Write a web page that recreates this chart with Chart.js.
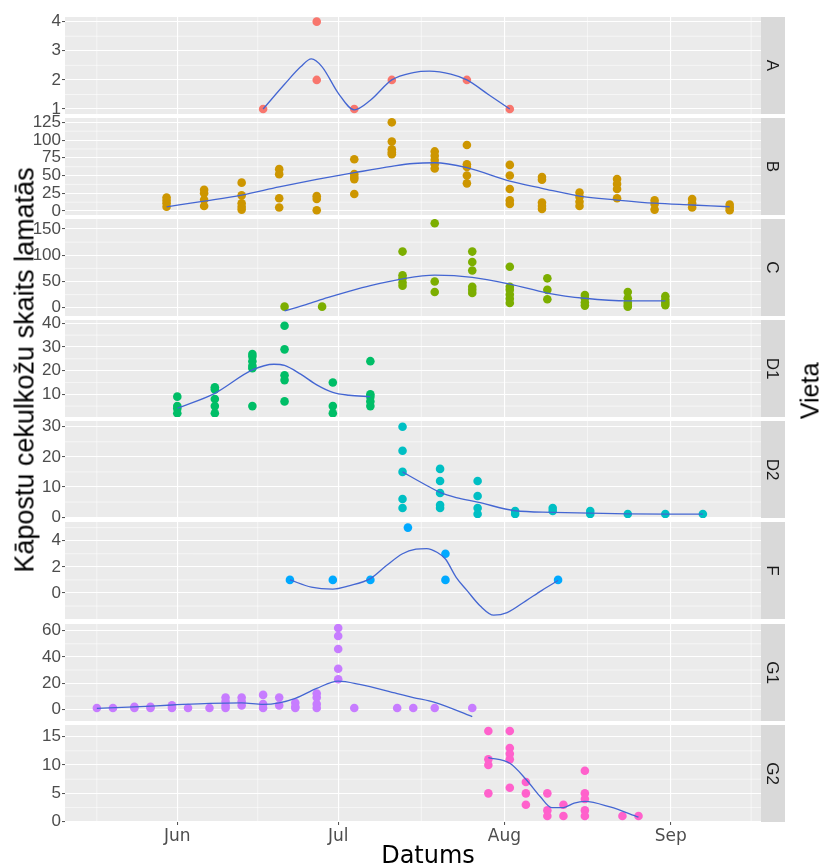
<!DOCTYPE html>
<html>
<head>
<meta charset="utf-8">
<script src="https://cdn.jsdelivr.net/npm/chart.js@4.4.1/dist/chart.umd.min.js"></script>
<style>
  html, body { margin: 0; padding: 0; background: #ffffff; }
  #wrap { position: relative; width: 819px; height: 866px; overflow: hidden; }
  #wrap canvas { position: absolute; left: 0; }
  .title { position: absolute; white-space: nowrap; color: #000000; z-index: 5; line-height: 1; }
  #ytitle { left: 25px; top: 370px; font: 27px "Liberation Sans", Arial, sans-serif; transform: translate(-50%, -50%) rotate(-90deg); }
  #rtitle { left: 810px; top: 391px; font: 25px "Liberation Sans", Arial, sans-serif; transform: translate(-50%, -50%) rotate(-90deg); }
  #xtitle { left: 428px; top: 855px; font: 24px "DejaVu Sans", sans-serif; transform: translate(-50%, -50%); }
</style>
</head>
<body>
<div id="wrap">
  <div class="title" id="ytitle">Kāpostu cekulkožu skaits lamatās</div>
  <div class="title" id="xtitle">Datums</div>
  <div class="title" id="rtitle">Vieta</div>
</div>
<script>
// Trap catches per site: sampling day (day of year) and the counts caught that day.
const siteLabels = ['A', 'B', 'C', 'D1', 'D2', 'F', 'G1', 'G2'];
const siteColors = ['#F8766D', '#CD9600', '#7CAE00', '#00BE67', '#00BFC4', '#00A9FF', '#C77CFF', '#FF61CC'];

const daysA = [168, 178, 185, 192, 206, 214];
const countsA = [[1], [4, 2], [1], [2], [2], [1]];

const daysB = [150, 157, 164, 171, 178, 185, 192, 200, 206, 214, 220, 227, 234, 241, 248, 255];
const countsB = [[19, 15, 11, 6], [30, 25, 16, 7], [40, 22, 11, 6, 2], [59, 52, 18, 5], [21, 17, 1],
  [73, 52, 48, 45, 24], [125, 98, 87, 83, 80], [84, 78, 72, 66, 60], [93, 66, 62, 50, 39],
  [65, 50, 31, 15, 10], [48, 44, 12, 7, 3], [26, 20, 13, 7], [45, 38, 31, 18], [15, 10, 2],
  [17, 11, 5], [9, 5, 1]];

const daysC = [172, 179, 194, 200, 207, 214, 221, 228, 236, 243];
const countsC = [[2], [2], [107, 62, 56, 48, 42], [161, 50, 30], [107, 87, 71, 40, 34, 28],
  [78, 40, 34, 25, 17, 9], [56, 34, 16], [24, 18, 10, 4], [30, 18, 10, 5, 2], [22, 15, 10, 5]];

const daysD1 = [152, 159, 166, 172, 181, 188];
const countsD1 = [[9, 5, 4, 2], [13, 12, 8, 5, 2], [27, 26, 24, 22, 21, 5], [39, 29, 18, 16, 7],
  [15, 5, 2], [24, 10, 9, 7, 5]];

const daysD2 = [194, 201, 208, 215, 222, 229, 236, 243, 250];
const countsD2 = [[30, 22, 15, 6, 3], [16, 12, 8, 4, 3], [12, 7, 3, 1], [2, 1], [3, 2], [2, 1], [1], [1], [1]];

const daysF = [173, 181, 188, 195, 202, 223];
const countsF = [[1], [1], [1], [5], [3, 1], [1]];

const daysG1 = [137, 140, 144, 147, 151, 154, 158, 161, 164, 168, 171, 174, 178, 182, 185, 193, 196, 200, 207];
const countsG1 = [[1], [1], [2, 1], [2, 1], [3, 1], [1], [1], [9, 6, 3, 1], [9, 6, 3], [11, 4, 1], [9, 3],
  [5, 2, 1], [12, 9, 4, 1], [62, 56, 46, 31, 23], [1], [1], [1], [1], [1]];

const daysG2 = [210, 214, 217, 221, 224, 228, 235, 238];
const countsG2 = [[16, 11, 10, 5], [16, 13, 12, 11, 6], [7, 5, 3], [5, 2, 1], [3, 1], [9, 5, 4, 2, 1], [1], [1]];

// Smoothed trend per site (day of year, fitted count).
const smoothDaysA = [168, 172, 175, 177, 179, 182, 185, 188, 192, 196, 199, 203, 206, 210, 214];
const smoothA = [1.0, 1.85, 2.45, 2.72, 2.45, 1.55, 0.97, 1.3, 2.0, 2.25, 2.3, 2.2, 2.0, 1.5, 1.0];
const smoothDaysB = [150, 157, 164, 171, 178, 185, 192, 196, 200, 206, 214, 220, 227, 234, 241, 248, 255];
const smoothB = [6, 14, 22.5, 34, 44.5, 54, 63, 67, 68, 61, 42, 32, 21, 15.5, 11, 8.5, 6];
const smoothDaysC = [172, 176, 180, 184, 188, 194, 200, 207, 214, 221, 228, 236, 243];
const smoothC = [-6, 6, 19, 31, 42, 55, 62, 58, 45, 28, 18, 13, 13];
const smoothDaysD1 = [152, 159, 166, 170, 172, 175, 178, 181, 184, 188];
const smoothD1 = [4.1, 10.4, 20.3, 22.7, 22.2, 18.5, 14, 10.8, 9.6, 9];
const smoothDaysD2 = [194, 198, 201, 204, 208, 215, 222, 229, 236, 243, 250];
const smoothD2 = [15, 11, 8.2, 6.5, 5, 2.1, 1.6, 1.3, 1.1, 1, 1];
const smoothDaysF = [173, 177, 181, 184, 188, 191, 194, 196.5, 198.5, 200.5, 202, 204, 206, 208.5, 211, 213.5, 217, 220, 223];
const smoothF = [1, 0.45, 0.3, 0.55, 1.1, 2.1, 3.0, 3.35, 3.4, 3.1, 2.6, 1.2, 0.2, -1.0, -1.7, -1.5, -0.6, 0.2, 0.95];
const smoothDaysG1 = [137, 144, 151, 158, 164, 168, 171, 174, 178, 182, 186, 193, 196, 200, 207];
const smoothG1 = [0.8, 1.9, 3.3, 4.6, 5.0, 3.8, 5.0, 8.4, 16, 21.5, 19, 12, 9, 5.3, -5.6];
const smoothDaysG2 = [210, 214, 217, 219.7, 221.8, 224, 226, 228, 232.7, 238];
const smoothG2 = [11.3, 10.3, 7.5, 4.4, 2.5, 2.5, 3.3, 3.6, 2.6, 0.8];

// Axis breaks
const monthTicks = [152, 182, 213, 244];
const monthLabels = ['Jun', 'Jul', 'Aug', 'Sep'];
const monthMinor = [137, 167, 197.5, 228.5, 259];
const yTicksA = [1, 2, 3, 4];
const yTicksB = [0, 25, 50, 75, 100, 125];
const yTicksC = [0, 50, 100, 150];
const yTicksD1 = [10, 20, 30, 40];
const yTicksD2 = [0, 10, 20, 30];
const yTicksF = [0, 2, 4];
const yTicksG1 = [0, 20, 40, 60];
const yTicksG2 = [0, 5, 10, 15];

// Axis limits
const xLimits = [131.06, 260.84];
const yLimitsA = [0.83, 4.16];
const yLimitsB = [-5.6, 131.1];
const yLimitsC = [-15.8, 169.1];
const yLimitsD1 = [0.4, 41.4];
const yLimitsD2 = [-0.3, 31.9];
const yLimitsF = [-1.99, 5.43];
const yLimitsG1 = [-8.9, 65.1];
const yLimitsG2 = [-0.05, 17.06];

const facets = [
  { days: daysA, counts: countsA, sd: smoothDaysA, sv: smoothA, ticks: yTicksA, lim: yLimitsA },
  { days: daysB, counts: countsB, sd: smoothDaysB, sv: smoothB, ticks: yTicksB, lim: yLimitsB },
  { days: daysC, counts: countsC, sd: smoothDaysC, sv: smoothC, ticks: yTicksC, lim: yLimitsC },
  { days: daysD1, counts: countsD1, sd: smoothDaysD1, sv: smoothD1, ticks: yTicksD1, lim: yLimitsD1 },
  { days: daysD2, counts: countsD2, sd: smoothDaysD2, sv: smoothD2, ticks: yTicksD2, lim: yLimitsD2 },
  { days: daysF, counts: countsF, sd: smoothDaysF, sv: smoothF, ticks: yTicksF, lim: yLimitsF },
  { days: daysG1, counts: countsG1, sd: smoothDaysG1, sv: smoothG1, ticks: yTicksG1, lim: yLimitsG1 },
  { days: daysG2, counts: countsG2, sd: smoothDaysG2, sv: smoothG2, ticks: yTicksG2, lim: yLimitsG2 }
];

// Layout of the stacked panels
const PANEL_TOP = 16.7, PANEL_STEP = 101.15, PANEL_H = 97, PAD = 12;
const AXIS_W = 65, RIGHT_PAD = 58, STRIP_W = 24, XAXIS_H = 28;
const SMOOTH_COLOR = '#4466d2';

function minorBreaks(ticks, lim) {
  const step = ticks[1] - ticks[0];
  const out = [];
  const ext = [ticks[0] - step].concat(ticks, [ticks[ticks.length - 1] + step]);
  for (let i = 0; i < ext.length - 1; i++) {
    const m = (ext[i] + ext[i + 1]) / 2;
    if (m > lim[0] && m < lim[1]) out.push(m);
  }
  return out;
}

const panelDecor = {
  id: 'panelDecor',
  beforeDraw(chart, args, opts) {
    const { ctx, chartArea: a } = chart;
    const x = chart.scales.x, y = chart.scales.y;
    ctx.save();
    ctx.fillStyle = '#ebebeb';
    ctx.fillRect(a.left, a.top, a.right - a.left, a.bottom - a.top);
    ctx.strokeStyle = '#ffffff';
    ctx.lineWidth = 0.55;
    ctx.beginPath();
    monthMinor.forEach(d => {
      const px = x.getPixelForValue(d);
      if (px > a.left && px < a.right) { ctx.moveTo(px, a.top); ctx.lineTo(px, a.bottom); }
    });
    opts.minor.forEach(v => {
      const py = y.getPixelForValue(v);
      ctx.moveTo(a.left, py); ctx.lineTo(a.right, py);
    });
    ctx.stroke();
    // facet strip on the right
    ctx.fillStyle = '#d9d9d9';
    ctx.fillRect(a.right, a.top, STRIP_W, a.bottom - a.top);
    ctx.translate(a.right + STRIP_W / 2, (a.top + a.bottom) / 2);
    ctx.rotate(Math.PI / 2);
    ctx.fillStyle = '#1a1a1a';
    ctx.font = '17px "Liberation Sans", Arial, sans-serif';
    ctx.textAlign = 'center';
    ctx.textBaseline = 'middle';
    ctx.fillText(opts.label, 0, 1);
    ctx.restore();
  }
};

const wrap = document.getElementById('wrap');

facets.forEach((f, i) => {
  const isLast = i === facets.length - 1;
  const top = Math.round(PANEL_TOP + i * PANEL_STEP);
  const bottomPad = isLast ? 6 : PAD;
  const axisH = isLast ? XAXIS_H : 0;
  const canvas = document.createElement('canvas');
  canvas.width = 819;
  canvas.height = PANEL_H + PAD + axisH + bottomPad;
  canvas.style.top = (top - PAD) + 'px';
  wrap.appendChild(canvas);

  const points = [];
  f.days.forEach((d, k) => f.counts[k].forEach(c => points.push({ x: d, y: c })));
  const curve = f.sd.map((d, k) => ({ x: d, y: f.sv[k] }));

  new Chart(canvas, {
    type: 'scatter',
    data: {
      datasets: [
        {
          data: curve, showLine: true, borderColor: SMOOTH_COLOR, borderWidth: 1.3,
          pointRadius: 0, pointHoverRadius: 0, cubicInterpolationMode: 'monotone', fill: false
        },
        {
          data: points, backgroundColor: siteColors[i], borderWidth: 0,
          pointRadius: 4.3, pointHoverRadius: 4.3
        }
      ]
    },
    options: {
      responsive: false,
      maintainAspectRatio: false,
      animation: false,
      events: [],
      layout: { padding: { top: PAD, bottom: bottomPad, left: 0, right: RIGHT_PAD } },
      plugins: {
        legend: { display: false },
        tooltip: { enabled: false },
        panelDecor: { label: siteLabels[i], minor: minorBreaks(f.ticks, f.lim) }
      },
      scales: {
        x: {
          type: 'linear', min: xLimits[0], max: xLimits[1],
          afterBuildTicks: s => { s.ticks = monthTicks.map(v => ({ value: v })); },
          afterFit: s => { s.height = axisH; },
          ticks: {
            display: isLast, autoSkip: false, maxRotation: 0, minRotation: 0, padding: 1,
            color: '#4d4d4d', font: { family: 'DejaVu Sans', size: 17 },
            callback: (v, idx) => monthLabels[idx]
          },
          grid: { color: '#ffffff', lineWidth: 1.1, drawTicks: isLast, tickLength: 3, tickColor: '#4d4d4d', tickWidth: 1 },
          border: { display: false }
        },
        y: {
          type: 'linear', min: f.lim[0], max: f.lim[1],
          afterBuildTicks: s => { s.ticks = f.ticks.map(v => ({ value: v })); },
          afterFit: s => { s.width = AXIS_W; },
          ticks: {
            autoSkip: false, padding: 1, color: '#4d4d4d', font: { family: 'Liberation Sans', size: 17 },
            callback: v => String(v)
          },
          grid: { color: '#ffffff', lineWidth: 1.1, drawTicks: true, tickLength: 3, tickColor: '#4d4d4d', tickWidth: 1 },
          border: { display: false }
        }
      }
    },
    plugins: [panelDecor]
  });
});
</script>
</body>
</html>
